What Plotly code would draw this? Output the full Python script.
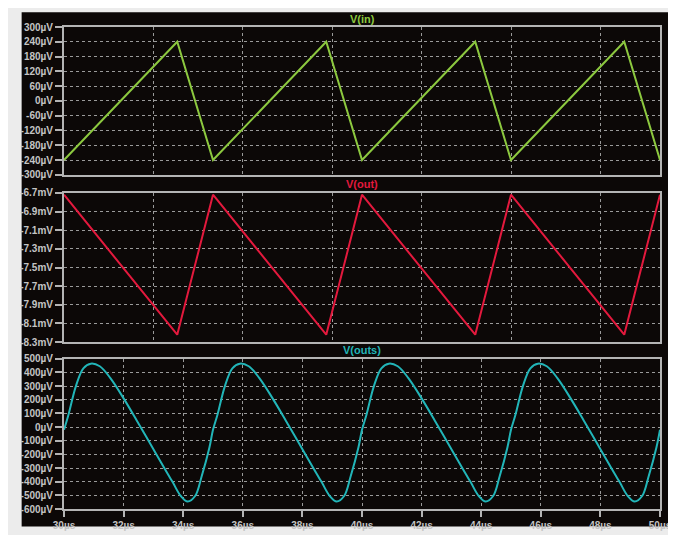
import plotly.graph_objects as go

# ---------------- data ----------------
t_in = [30, 33.8, 35, 38.8, 40, 43.8, 45, 48.8, 50]
v_in = [-240, 240, -240, 240, -240, 240, -240, 240, -240]          # µV

t_out = [30, 33.8, 35, 38.8, 40, 43.8, 45, 48.8, 50]
v_out = [-6.72, -8.22, -6.72, -8.22, -6.72, -8.22, -6.72, -8.22, -6.72]  # mV

t_outs = [30.00, 30.15, 30.40, 30.65, 30.90, 31.20, 31.55, 32.00, 32.45, 32.90, 33.35, 33.65, 33.92, 34.15, 34.40, 34.62, 34.88,
          35.00, 35.15, 35.40, 35.65, 35.90, 36.20, 36.55, 37.00, 37.45, 37.90, 38.35, 38.65, 38.92, 39.15, 39.40, 39.62, 39.88,
          40.00, 40.15, 40.40, 40.65, 40.90, 41.20, 41.55, 42.00, 42.45, 42.90, 43.35, 43.65, 43.92, 44.15, 44.40, 44.62, 44.88,
          45.00, 45.15, 45.40, 45.65, 45.90, 46.20, 46.55, 47.00, 47.45, 47.90, 48.35, 48.65, 48.92, 49.15, 49.40, 49.62, 49.88,
          50.00]
v_outs = [-20, 90, 300, 430, 464, 445, 360, 210, 45, -125, -295, -405, -505, -545, -505, -360, -150,
          -20, 90, 300, 430, 464, 445, 360, 210, 45, -125, -295, -405, -505, -545, -505, -360, -150,
          -20, 90, 300, 430, 464, 445, 360, 210, 45, -125, -295, -405, -505, -545, -505, -360, -150,
          -20, 90, 300, 430, 464, 445, 360, 210, 45, -125, -295, -405, -505, -545, -505, -360, -150,
          -20]  # µV

yt_in = [300, 240, 180, 120, 60, 0, -60, -120, -180, -240, -300]
yl_in = [f"{v}µV" for v in yt_in]
yt_out = [-6.7, -6.9, -7.1, -7.3, -7.5, -7.7, -7.9, -8.1, -8.3]
yl_out = [f"{v}mV" for v in yt_out]
yt_outs = [500, 400, 300, 200, 100, 0, -100, -200, -300, -400, -500, -600]
yl_outs = [f"{v}µV" for v in yt_outs]
xt = [30, 32, 34, 36, 38, 40, 42, 44, 46, 48, 50]
xl = [f"{v}µs" for v in xt]

titles = ["V(in)", "V(out)", "V(outs)"]
colors = ["#8cc83f", "#e3193d", "#22b5b8"]

# ---------------- figure ----------------
W, H = 676, 535
ml, mr, mt, mb = 53, 18, 19, 22
ph = H - mt - mb

def fy(py):
    return (H - mb - py) / ph

def fx(px):
    return (px - ml) / (W - ml - mr)

fig = go.Figure()
fig.add_trace(go.Scatter(x=t_in, y=v_in, mode="lines", line=dict(color=colors[0], width=2),
                         xaxis="x", yaxis="y"))
fig.add_trace(go.Scatter(x=t_out, y=v_out, mode="lines", line=dict(color=colors[1], width=2),
                         xaxis="x2", yaxis="y2"))
fig.add_trace(go.Scatter(x=t_outs, y=v_outs, mode="lines", line=dict(color=colors[2], width=2, shape="spline"),
                         xaxis="x3", yaxis="y3"))

frame = "#b4b4b4"
grid = "#9a9a9a"
FONT = "Liberation Sans, Arial, sans-serif"
tickfont = dict(family=FONT, size=10, color="#c4c4c4", weight="bold")

def xax(domain_anchor, dtick, show_labels):
    d = dict(range=[30, 50], showline=True, mirror=True, linecolor=frame, linewidth=2,
             showgrid=True, gridcolor=grid, griddash="dot", gridwidth=1, zeroline=False,
             anchor=domain_anchor, domain=[0, 1], tickfont=tickfont)
    if show_labels:
        d.update(tickmode="array", tickvals=xt, ticktext=xl, ticks="outside", ticklen=6,
                 tickcolor=frame, tickwidth=1.5, showticklabels=True)
    else:
        d.update(tick0=30, dtick=dtick, showticklabels=False, ticks="")
    return d

def yax(domain, rng, tv, tl, anchor):
    return dict(range=rng, domain=domain, tickmode="array", tickvals=tv, ticktext=tl,
                showline=True, mirror=True, linecolor=frame, linewidth=2,
                showgrid=True, gridcolor=grid, griddash="dot", gridwidth=1, zeroline=False,
                ticks="outside", ticklen=7, tickcolor=frame, tickwidth=1.5,
                tickfont=tickfont, anchor=anchor)

d1 = [fy(170.5), fy(19)]
d2 = [fy(342), fy(189)]
d3 = [fy(513), fy(359)]

def title_ann(text, py, color):
    return dict(text=text, x=0.5, y=fy(py), xref="paper", yref="paper", showarrow=False,
                xanchor="center", yanchor="middle",
                font=dict(family=FONT, size=11, color=color, weight="bold"))

fig.update_layout(
    width=W, height=H,
    margin=dict(l=ml, r=mr, t=mt, b=mb),
    paper_bgcolor="#ececec",
    plot_bgcolor="#0c0807",
    showlegend=False,
    xaxis=xax("y", 3, False),
    xaxis2=xax("y2", 3, False),
    xaxis3=xax("y3", 2, True),
    yaxis=yax(d1, [-300, 300], yt_in, yl_in, "x"),
    yaxis2=yax(d2, [-8.3, -6.7], yt_out, yl_out, "x2"),
    yaxis3=yax(d3, [-600, 500], yt_outs, yl_outs, "x3"),
    shapes=[dict(type="rect", xref="paper", yref="paper", layer="below",
                 x0=fx(10), x1=fx(669), y0=fy(531), y1=fy(4),
                 fillcolor="#0c0807", line=dict(width=0))],
    annotations=[
        title_ann(titles[0], 11, colors[0]),
        title_ann(titles[1], 180, colors[1]),
        title_ann(titles[2], 350, colors[2]),
    ],
)

fig.write_html("out.html")
